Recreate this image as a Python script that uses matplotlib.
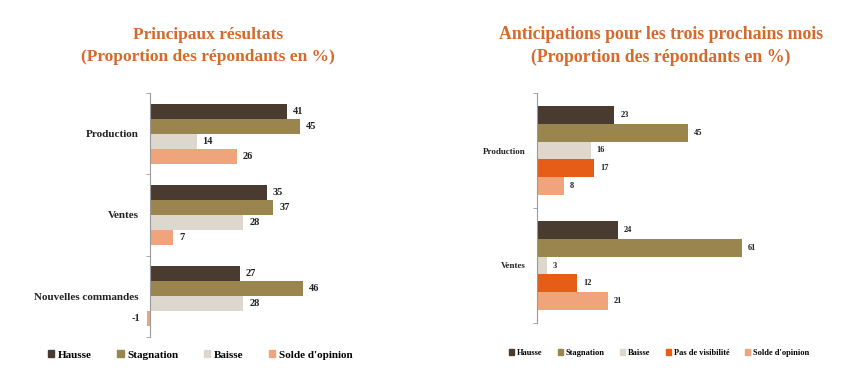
import matplotlib.pyplot as plt
import numpy as np
from matplotlib.patches import Patch

plt.rcParams['font.family'] = ['Liberation Serif', 'DejaVu Serif']
plt.rcParams['font.weight'] = 'bold'

# left chart
cats_left = ['Production', 'Ventes', 'Nouvelles commandes']
series_left = ['Hausse', 'Stagnation', 'Baisse', "Solde d'opinion"]
hausse_l = [41, 35, 27]
stagnation_l = [45, 37, 46]
baisse_l = [14, 28, 28]
solde_l = [26, 7, -1]

# right chart
cats_right = ['Production', 'Ventes']
series_right = ['Hausse', 'Stagnation', 'Baisse', 'Pas de visibilité', "Solde d'opinion"]
hausse_r = [23, 24]
stagnation_r = [45, 61]
baisse_r = [16, 3]
pasvis_r = [17, 12]
solde_r = [8, 21]

colors = {'Hausse': '#4a3b30', 'Stagnation': '#9b854f', 'Baisse': '#ded7cd',
          'Pas de visibilité': '#e55d17', "Solde d'opinion": '#f0a47b'}
title_color = '#d7692c'

W, H = 842, 373
fig = plt.figure(figsize=(W / 100, H / 100), dpi=100)


def px_axes(x0, x1, y0, y1):
    return fig.add_axes([x0 / W, 1 - y1 / H, (x1 - x0) / W, (y1 - y0) / H])


def draw(ax, cats, names, values, bar_h, lab_fs, val_fs, xmin, xmax):
    n = len(names)
    pos = np.arange(len(cats))
    for i, (name, vals) in enumerate(zip(names, values)):
        y = pos - bar_h * (n - 1) / 2 + i * bar_h
        ax.barh(y, vals, height=bar_h, color=colors[name], edgecolor='none')
        for yy, v in zip(y, vals):
            if v >= 0:
                ax.text(v + 1.8, yy, str(v), va='center', ha='left', fontsize=val_fs, color='#222222')
            else:
                ax.text(v - 1.8, yy, str(v), va='center', ha='right', fontsize=val_fs, color='#222222')
    ax.set_ylim(len(cats) - 0.5, -0.5)
    ax.set_xlim(xmin, xmax)
    ax.set_yticks(pos)
    ax.set_yticklabels(cats)
    ax.set_yticks(np.arange(len(cats) + 1) - 0.5, minor=True)
    ax.tick_params(axis='y', which='major', length=0, pad=8, labelsize=lab_fs, labelcolor='#222222')
    ax.tick_params(axis='y', which='minor', length=3, color='#999999')
    ax.set_xticks([])
    for s in ['top', 'right', 'bottom']:
        ax.spines[s].set_visible(False)
    ax.spines['left'].set_position(('data', 0))
    ax.spines['left'].set_color('#999999')
    ax.patch.set_alpha(0)


# left axes: 0 at x=150, 3.333 px per unit
ppu = 150 / 45
axl = px_axes(150 - 3 * ppu, 150 + 60 * ppu, 93, 337)
draw(axl, cats_left, series_left, [hausse_l, stagnation_l, baisse_l, solde_l],
     0.185, 8, 7.5, -3, 60)

ppu_r = 205 / 61
axr = px_axes(537, 537 + 70 * ppu_r, 93, 323)
draw(axr, cats_right, series_right, [hausse_r, stagnation_r, baisse_r, pasvis_r, solde_r],
     0.155, 6.5, 6, 0, 70)

fig.text(208 / W, 1 - 46 / H, 'Principaux résultats\n(Proportion des répondants en %)',
         ha='center', va='center', fontsize=12.5, color=title_color, linespacing=1.45)
fig.text(661 / W, 1 - 46 / H, 'Anticipations pour les trois prochains mois\n(Proportion des répondants en %)',
         ha='center', va='center', fontsize=12.8, color=title_color, linespacing=1.45)

h_l = [Patch(color=colors[s]) for s in series_left]
fig.legend(h_l, series_left, loc='center', bbox_to_anchor=(200 / W, 1 - 355 / H), ncol=4,
           frameon=False, fontsize=8, handlelength=0.6, handleheight=0.6,
           handletextpad=0.3, columnspacing=2.3)
h_r = [Patch(color=colors[s]) for s in series_right]
fig.legend(h_r, series_right, loc='center', bbox_to_anchor=(659 / W, 1 - 353 / H), ncol=5,
           frameon=False, fontsize=6, handlelength=0.6, handleheight=0.6,
           handletextpad=0.3, columnspacing=1.9)

fig.savefig('out.png', dpi=100)
